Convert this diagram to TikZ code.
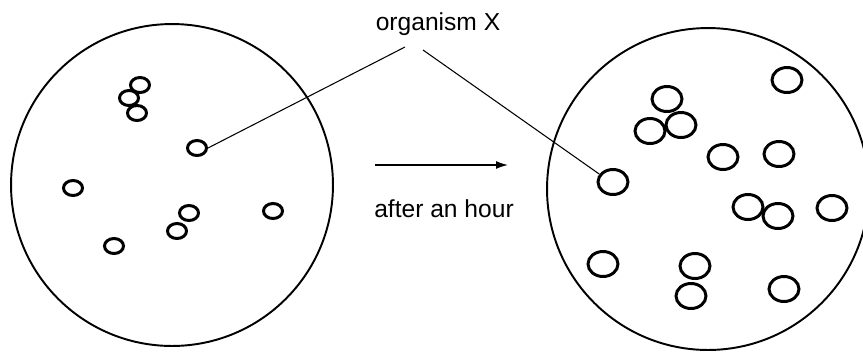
\documentclass[tikz,border=0pt]{standalone}
\usepackage{fontspec}
\setmainfont{Liberation Sans}
\usetikzlibrary{arrows.meta, shapes.geometric}

\begin{document}
\begin{tikzpicture}[
    x=0.02cm, y=-0.02cm,
    dish/.style={
      circle,
      draw,
      line width=1.1pt,
      minimum size=6.44cm,
      inner sep=0pt,
    },
    cellL/.style={ellipse, draw, line width=1.7pt, minimum width=0.38cm, minimum height=0.30cm, inner sep=0pt},
    cellR/.style={ellipse, draw, line width=1.7pt, minimum width=0.60cm, minimum height=0.50cm, inner sep=0pt},
    lbl/.style={font=\fontsize{14}{17}\selectfont, inner sep=0pt, anchor=base},
    arr/.style={-{Latex[length=0.24cm, width=0.16cm]}, line width=0.8pt},
    pointer/.style={line width=0.6pt},
  ]
    \clip (0,0) rectangle (863,353);

    % the two dishes
    \node[dish] (before) at (172,185) {};
    \node[dish] (after) at (708,189) {};

    % organisms at the start
    \node[cellL] (l1) at (140,85) {};
    \node[cellL] (l2) at (129,98) {};
    \node[cellL] (l3) at (137,113) {};
    \node[cellL] (l4) at (197,148) {};
    \node[cellL] (l5) at (73,188) {};
    \node[cellL] (l6) at (189,213) {};
    \node[cellL] (l7) at (177,231) {};
    \node[cellL] (l8) at (114,246) {};
    \node[cellL] (l9) at (273,211) {};

    % organisms after an hour
    \node[cellR] (r1) at (787,80) {};
    \node[cellR] (r2) at (667,99) {};
    \node[cellR] (r3) at (650,131) {};
    \node[cellR] (r4) at (681,125) {};
    \node[cellR] (r5) at (723,157) {};
    \node[cellR] (r6) at (779,154) {};
    \node[cellR] (r7) at (613,182) {};
    \node[cellR] (r8) at (748,207) {};
    \node[cellR] (r9) at (778,216) {};
    \node[cellR] (r10) at (832,208) {};
    \node[cellR] (r11) at (603,264) {};
    \node[cellR] (r12) at (695,266) {};
    \node[cellR] (r13) at (691,296) {};
    \node[cellR] (r14) at (784,289) {};

    % labels
    \node[lbl] (orgX) at (438,30) {organism X};
    \node[lbl] (hour) at (444,217) {after an hour};

    \coordinate (tipL) at (405,47);
    \coordinate (tipR) at (423,50);
    \coordinate (arrS) at (375,165);
    \coordinate (arrE) at (508,165);

    \draw[pointer] (tipL) -- (l4.east);
    \draw[pointer] (tipR) -- (r7.150);
    \draw[arr] (arrS) -- (arrE);
  \end{tikzpicture}
\end{document}
